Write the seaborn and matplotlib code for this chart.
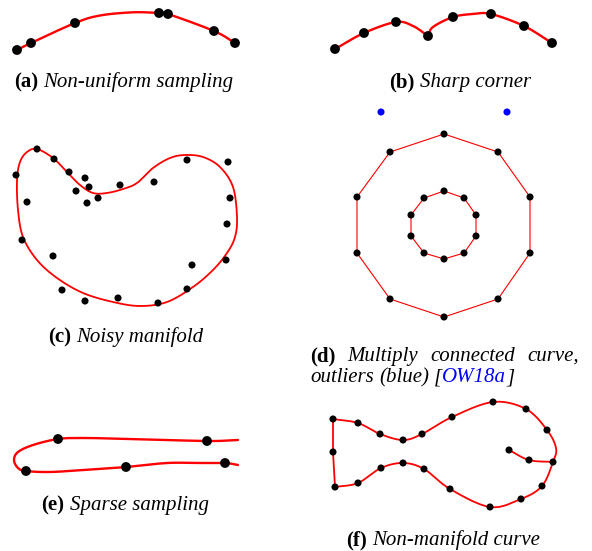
import numpy as np
import pandas as pd
import matplotlib
matplotlib.use("Agg")
import matplotlib.pyplot as plt
import seaborn as sns

# ---------------- data (pixel coordinates) -------------
# (a) non-uniform sampling
a_pts_x = [17, 31, 75, 159, 168, 214, 235]
a_pts_y = [50, 43, 23, 13, 14, 31, 43]
a_curve_x = [17, 31, 75, 100, 133, 159, 168, 214, 235]
a_curve_y = [50, 43, 23, 15.5, 12.3, 13, 14, 31, 43]

# (b) sharp corner
b_pts_x = [335, 364, 396, 428, 453, 491, 524, 552]
b_pts_y = [49, 33, 22, 36, 17, 14, 26, 43]
b_arc1_x = [335, 364, 396, 413, 428]
b_arc1_y = [49, 33, 22, 26, 36]
b_arc2_x = [428, 433, 453, 473, 491, 524, 552]
b_arc2_y = [36, 27, 17, 14, 14, 26, 43]

# (c) noisy manifold
c_pts_x = [16, 37, 54, 69, 85, 89, 76, 98, 87, 120, 154, 187, 228, 230, 227,
           226, 192, 187, 158, 118, 85, 62, 53, 22, 27]
c_pts_y = [175, 149, 159, 172, 178, 187, 191, 198, 203, 185, 182, 160, 162, 198,
           224, 260, 265, 289, 303, 298, 301, 290, 256, 240, 202]
c_curve_x = [37, 53, 67, 80, 93, 107, 123, 137, 153, 170, 185, 203, 220, 233, 237,
             235, 227, 213, 193, 167, 140, 113, 83, 57, 37, 23, 18, 17, 20, 27]
c_curve_y = [149, 158, 172, 185, 193, 193, 189, 183, 168, 158, 155, 157, 167, 187, 217,
             237, 253, 270, 287, 302, 306, 302, 293, 278, 260, 237, 210, 180, 162, 152]

# (d) multiply connected curve + outliers
d_outer_x = [444, 498, 530, 530, 498, 444, 390, 357, 357, 390]
d_outer_y = [134, 152, 197, 253, 299, 317, 299, 253, 197, 152]
d_inner_x = [444, 464, 476, 476, 464, 444, 424, 411, 411, 424]
d_inner_y = [191, 198, 215, 236, 253, 259, 253, 236, 215, 198]
d_outlier_x = [381, 507]
d_outlier_y = [112, 112]

# (e) sparse sampling
e_pts_x = [58, 207, 26, 126, 225]
e_pts_y = [439, 441, 471, 467, 463]
e_curve_x = [238, 207, 133, 83, 58, 33, 18, 14, 18, 26, 50, 83, 126, 167, 200, 225, 238]
e_curve_y = [440, 441, 439, 438, 439, 445, 452, 460, 468, 471, 472, 470, 467, 463, 463, 463, 465]

# (f) non-manifold curve
f_pts_x = [333, 358, 380, 403, 422, 452, 493, 526, 547, 553, 542, 521, 490, 450,
           424, 403, 381, 358, 335, 333, 529, 509]
f_pts_y = [419, 423, 434, 440, 434, 417, 402, 409, 430, 462, 486, 499, 507, 489,
           469, 463, 468, 483, 487, 452, 460, 450]
f_body_x = [333, 358, 380, 403, 422, 452, 493, 526, 547, 556, 553, 542, 521, 490,
            450, 424, 403, 381, 358, 335]
f_body_y = [419, 423, 434, 440, 434, 417, 402, 409, 430, 448, 462, 486, 499, 507,
            489, 469, 463, 468, 483, 487]
f_left_x = [335, 333, 333]
f_left_y = [487, 452, 419]
f_branch_x = [509, 529, 553]
f_branch_y = [450, 460, 462]

RED = "#ff0000"
BLUE = "#0000ff"


def smooth(xs, ys, closed=False, n=24):
    """Catmull-Rom rendering of a curve through the given points."""
    p = np.column_stack([xs, ys]).astype(float)
    if closed:
        p = np.vstack([p[-1], p, p[0], p[1]])
    else:
        p = np.vstack([2 * p[0] - p[1], p, 2 * p[-1] - p[-2]])
    out = []
    for i in range(1, len(p) - 2):
        p0, p1, p2, p3 = p[i - 1], p[i], p[i + 1], p[i + 2]
        t = np.linspace(0, 1, n, endpoint=False)[:, None]
        seg = 0.5 * ((2 * p1) + (-p0 + p2) * t + (2 * p0 - 5 * p1 + 4 * p2 - p3) * t ** 2
                     + (-p0 + 3 * p1 - 3 * p2 + p3) * t ** 3)
        out.append(seg)
    out.append(p[-2][None, :])
    out = np.vstack(out)
    return out[:, 0], out[:, 1]


def curve(ax, xs, ys, closed=False, lw=1.4, smooth_it=True):
    if smooth_it:
        x, y = smooth(xs, ys, closed)
    else:
        x, y = np.asarray(xs, float), np.asarray(ys, float)
        if closed:
            x = np.append(x, x[0])
            y = np.append(y, y[0])
    df = pd.DataFrame({"x": x, "y": y})
    sns.lineplot(data=df, x="x", y="y", sort=False, estimator=None, color=RED,
                 linewidth=lw, ax=ax, legend=False)


def dots(ax, xs, ys, s, color="black"):
    sns.scatterplot(x=xs, y=ys, s=s, color=color, edgecolor="none", linewidth=0,
                    ax=ax, legend=False, zorder=5)


sns.set_theme(style="white")
plt.rcParams["font.family"] = ["Liberation Serif", "DejaVu Serif"]

fig = plt.figure(figsize=(5.92, 5.51), dpi=100)
ax = fig.add_axes([0, 0, 1, 1])
ax.set_xlim(0, 592)
ax.set_ylim(551, 0)
ax.axis("off")

BIG = 50
SMALL = 26

# (a)
curve(ax, a_curve_x, a_curve_y, lw=1.7)
dots(ax, a_pts_x, a_pts_y, BIG)
# (b)
curve(ax, b_arc1_x, b_arc1_y, lw=1.7)
curve(ax, b_arc2_x, b_arc2_y, lw=1.7)
dots(ax, b_pts_x, b_pts_y, BIG)
# (c)
curve(ax, c_curve_x, c_curve_y, closed=True, lw=1.3)
dots(ax, c_pts_x, c_pts_y, SMALL)
# (d)
curve(ax, d_outer_x, d_outer_y, closed=True, lw=0.8, smooth_it=False)
curve(ax, d_inner_x, d_inner_y, closed=True, lw=0.8, smooth_it=False)
dots(ax, d_outer_x, d_outer_y, SMALL)
dots(ax, d_inner_x, d_inner_y, SMALL)
dots(ax, d_outlier_x, d_outlier_y, SMALL, color=BLUE)
# (e)
curve(ax, e_curve_x, e_curve_y, lw=1.7)
dots(ax, e_pts_x, e_pts_y, BIG)
# (f)
curve(ax, f_body_x, f_body_y, lw=1.3)
curve(ax, f_left_x, f_left_y, lw=1.3, smooth_it=False)
curve(ax, f_branch_x, f_branch_y, lw=1.3)
dots(ax, f_pts_x, f_pts_y, SMALL)

# ---------------- captions ----------------
FS = 15
renderer = fig.canvas.get_renderer()
SPACE = FS * 0.25 * 100 / 72


def rich(parts, y, center=None, left=None, right=None):
    """parts: list of (text, bold, color, space_after)."""
    objs = []
    for txt, bold, color, sp in parts:
        t = ax.text(0, y, txt, fontsize=FS, color=color,
                    fontweight="bold" if bold else "normal",
                    fontstyle="normal" if bold else "italic",
                    va="baseline", ha="left")
        w = t.get_window_extent(renderer).width
        objs.append((t, w, sp))
    total = sum(w for _, w, _ in objs)
    nsp = sum(1 for _, _, sp in objs[:-1] if sp)
    if left is not None and right is not None and nsp:
        gap = (right - left - total) / nsp
        x = left
    else:
        gap = SPACE
        full = total + gap * nsp
        x = center - full / 2 if center is not None else left
    for t, w, sp in objs:
        t.set_x(x)
        x += w + (gap if sp else 0)


rich([("(a)", True, "black", True), ("Non-uniform sampling", False, "black", False)], 87, center=124)
rich([("(b)", True, "black", True), ("Sharp corner", False, "black", False)], 87, center=460)
rich([("(c)", True, "black", True), ("Noisy manifold", False, "black", False)], 342, center=126)
rich([("(d)", True, "black", True), ("Multiply", False, "black", True),
      ("connected", False, "black", True), ("curve,", False, "black", False)],
     361, left=310, right=579)
rich([("outliers", False, "black", True), ("(blue)", False, "black", True),
      ("[", False, "black", False), ("OW18a", False, BLUE, False), ("]", False, "black", False)],
     382, left=310)
rich([("(e)", True, "black", True), ("Sparse sampling", False, "black", False)], 510, center=125)
rich([("(f)", True, "black", True), ("Non-manifold curve", False, "black", False)], 545, center=443)

fig.savefig("out.png", dpi=100)
